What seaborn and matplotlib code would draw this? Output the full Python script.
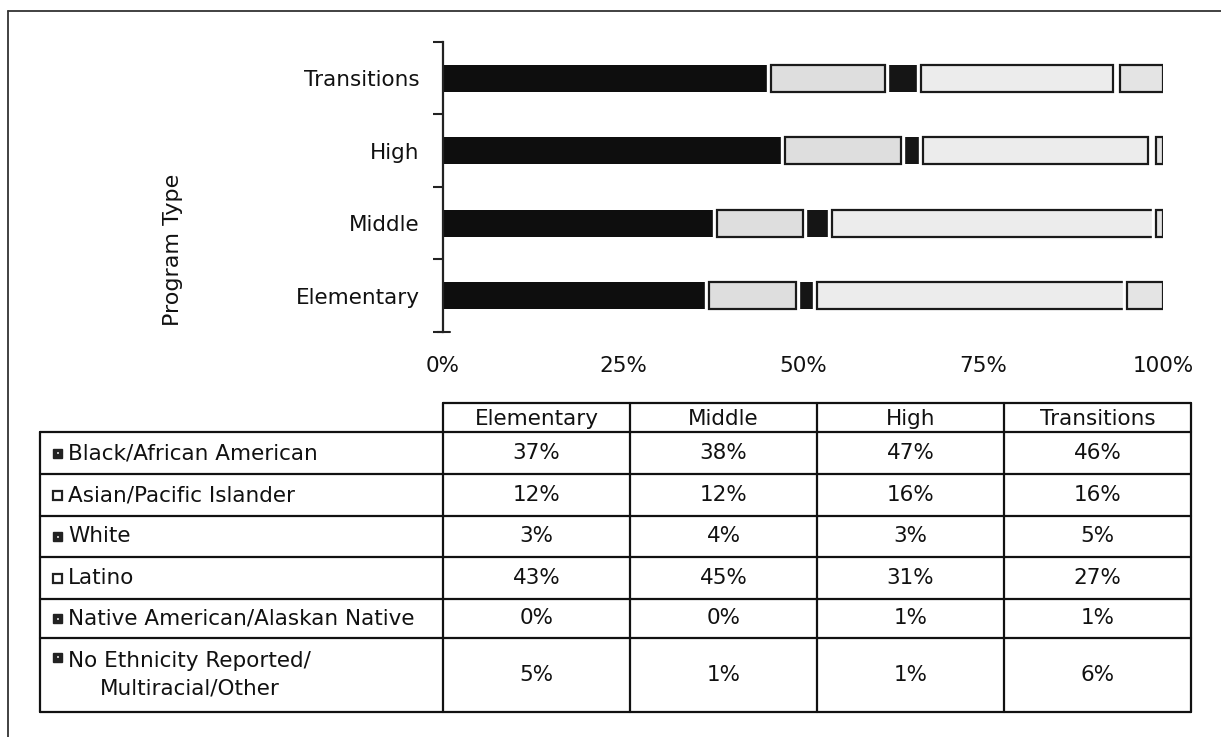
import numpy as np
import matplotlib
matplotlib.use("Agg")
import matplotlib.pyplot as plt
import matplotlib.patheffects as pe
from matplotlib.patches import Rectangle
import seaborn as sns

# ---------------- data ----------------
programs = ["Elementary", "Middle", "High", "Transitions"]
groups = ["Black/African American", "Asian/Pacific Islander", "White", "Latino",
          "Native American/Alaskan Native", "No Ethnicity Reported/\nMultiracial/Other"]
black = [37, 38, 47, 46]
asian = [12, 12, 16, 16]
white = [3, 4, 3, 5]
latino = [43, 45, 31, 27]
native = [0, 0, 1, 1]
other = [5, 1, 1, 6]
x_ticks = [0, 25, 50, 75, 100]
x_tick_labels = ["0%", "25%", "50%", "75%", "100%"]

series = [black, asian, white, latino, native, other]
dark = [True, False, True, False, True, False]
marker_dark = [True, False, True, False, True, True]
fills = ["#0e0e0e", "#dedede", "#151515", "#ececec", "#121212", "#e4e4e4"]

sns.set_theme(style="white")
plt.rcParams["font.family"] = ["DejaVu Sans"]
plt.rcParams["text.color"] = "#111111"

W, H = 1221, 737
fig = plt.figure(figsize=(W / 100, H / 100), dpi=100)
fig.patch.set_facecolor("white")

# main bar axes (pixel layout)
x0, x1, y0, y1 = 443, 1163, 42, 332
ax = fig.add_axes([x0 / W, 1 - y1 / H, (x1 - x0) / W, (y1 - y0) / H])

vals = np.array(series, dtype=float)
tot = vals.sum(axis=0)
pct = vals / tot * 100
left = np.zeros(len(programs))
ypos = np.arange(len(programs))
for i in range(len(series)):
    if dark[i]:
        ax.barh(ypos, pct[i], left=left, height=0.37, color=fills[i],
                edgecolor="none", linewidth=0, zorder=2)
    else:
        bars = ax.barh(ypos, pct[i], left=left, height=0.37, color=fills[i],
                       edgecolor="#1a1a1a", linewidth=1.6, zorder=3)
        for b in bars:
            b.set_path_effects([pe.withStroke(linewidth=6, foreground="white")])
    left += pct[i]

ax.set_xlim(0, 100)
ax.set_ylim(-0.5, len(programs) - 0.5)
ax.set_yticks(ypos)
ax.set_yticklabels(programs, fontsize=15.5, color="#111111")
ax.set_yticks(np.arange(-0.5, len(programs), 1.0), minor=True)
ax.tick_params(axis="y", which="major", left=False, length=0, pad=17)
ax.tick_params(axis="y", which="minor", left=True, length=7, width=1.5,
               color="#222222", direction="out")
ax.set_xticks(x_ticks)
ax.set_xticklabels(x_tick_labels, fontsize=15.5, color="#111111")
ax.tick_params(axis="x", length=0, pad=17)
for s in ["top", "right", "bottom"]:
    ax.spines[s].set_visible(False)
ax.spines["left"].set_color("#222222")
ax.spines["left"].set_linewidth(1.6)
ax.set_ylabel("Program Type", fontsize=16, color="#111111")
ax.yaxis.set_label_coords((183 - x0) / (x1 - x0), (y1 - 250) / (y1 - y0))
ax.grid(False)
ax.set_facecolor("white")

# ---------------- overlay: border + table ----------------
tax = fig.add_axes([0, 0, 1, 1])
tax.set_xlim(0, W)
tax.set_ylim(H, 0)
tax.axis("off")

lc = "#111111"
# outer frame (top + left)
tax.plot([8, W], [11, 11], color="#333333", lw=1.3)
tax.plot([8, 8], [11, H], color="#333333", lw=1.3)
# small cross at axis origin
tax.plot([437, 450], [332, 332], color="#222222", lw=1.5)

col_edges = [443, 630, 817, 1004, 1191]
row_edges = [432, 474, 516, 557, 599, 638, 712]
head_top = 403
tab_left = 40

# horizontal lines
tax.plot([col_edges[0], col_edges[-1]], [head_top, head_top], color=lc, lw=1.6)
for r in row_edges:
    tax.plot([tab_left, col_edges[-1]], [r, r], color=lc, lw=1.6)
# vertical lines
tax.plot([tab_left, tab_left], [row_edges[0], row_edges[-1]], color=lc, lw=1.6)
for c in col_edges:
    tax.plot([c, c], [head_top, row_edges[-1]], color=lc, lw=1.6)

fs = 15.5
# header
for j, name in enumerate(programs):
    cx = (col_edges[j] + col_edges[j + 1]) / 2
    tax.text(cx, 419, name, ha="center", va="center", fontsize=fs)

# rows
for i, g in enumerate(groups):
    top, bot = row_edges[i], row_edges[i + 1]
    cy = (top + bot) / 2
    if "\n" in g:
        my = top + 19
        tax.text(68, cy, g, ha="left", va="center", fontsize=fs,
                 multialignment="center", linespacing=1.45)
    else:
        my = cy
        tax.text(68, cy, g, ha="left", va="center", fontsize=fs)
    # marker square
    if marker_dark[i]:
        tax.add_patch(Rectangle((53, my - 4.5), 9, 9, facecolor="#222222",
                                edgecolor="#222222", lw=1.0))
        tax.add_patch(Rectangle((56.5, my - 1), 2, 2, facecolor="#bbbbbb",
                                edgecolor="none"))
    else:
        tax.add_patch(Rectangle((53, my - 4.5), 9, 9, facecolor="white",
                                edgecolor="#222222", lw=1.6))
    for j in range(len(programs)):
        cx = (col_edges[j] + col_edges[j + 1]) / 2
        tax.text(cx, cy, f"{series[i][j]}%", ha="center", va="center", fontsize=fs)

fig.savefig("out.png", dpi=100, facecolor="white")
